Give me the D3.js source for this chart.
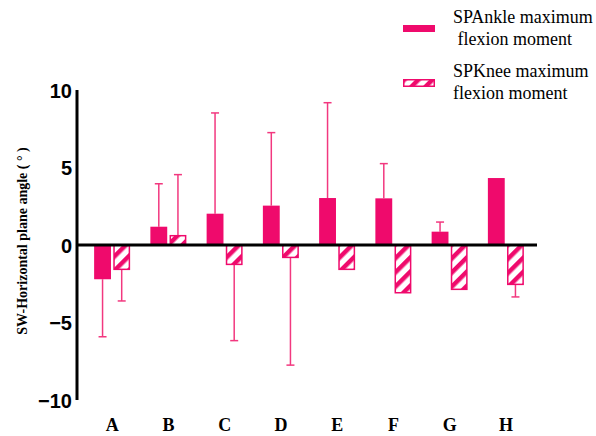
<!DOCTYPE html>
<html><head><meta charset="utf-8">
<script src="https://cdn.jsdelivr.net/npm/d3@7"></script>
<style>html,body{margin:0;padding:0;background:#fff;}svg{display:block;}</style>
</head><body>
<svg id="chart" width="596" height="436"></svg>
<script>
const categories = ["A","B","C","D","E","F","G","H"];
const seriesNames = ["SPAnkle maximum\n flexion moment", "SPKnee maximum\nflexion moment"];
const ankleMean = [-2.21, 1.18, 2.02, 2.54, 3.03, 3.01, 0.86, 4.32];
const ankleSD   = [3.71, 2.77, 6.50, 4.71, 6.15, 2.24, 0.62, 0];
const kneeMean  = [-1.57, 0.60, -1.25, -0.80, -1.57, -3.08, -2.86, -2.54];
const kneeSD    = [2.04, 3.94, 4.92, 6.95, 0, 0, 0, 0.81];
const yTicks = [-10, -5, 0, 5, 10];

const pink = "#EF0A6C";
const errColor = "#F2387F";
const serif = "'Liberation Serif', 'Times New Roman', serif";
const sans = "'Liberation Sans', Arial, sans-serif";
const svg = d3.select("#chart");

const defs = svg.append("defs");
const pat = defs.append("pattern").attr("id","hatch").attr("patternUnits","userSpaceOnUse")
  .attr("width",10).attr("height",10).attr("patternTransform","rotate(45)");
pat.append("rect").attr("width",10).attr("height",10).attr("fill","#fff");
pat.append("rect").attr("x",0).attr("width",4.5).attr("height",10).attr("fill",pink);

const y = d3.scaleLinear().domain([-10,10]).range([400,90]);
const x = d3.scaleBand().domain(categories).range([84,534]).padding(0);
const sub = d3.scaleBand().domain([0,1]).range([-18,18]).paddingInner(0.12);

const data = categories.map((c,i)=>[
  {c, s:0, m:ankleMean[i], sd:ankleSD[i]},
  {c, s:1, m:kneeMean[i], sd:kneeSD[i]}
]).flat();

const xc = d => x(d.c) + x.bandwidth()/2 + sub(d.s);
const bw = sub.bandwidth();

// error bars
const eg = svg.append("g");
data.filter(d=>d.sd>0).forEach(d=>{
  const cx = xc(d) + bw/2;
  const end = d.m >= 0 ? d.m + d.sd : d.m - d.sd;
  eg.append("line").attr("x1",cx).attr("x2",cx).attr("y1",y(d.m)).attr("y2",y(end))
    .attr("stroke",errColor).attr("stroke-width",1.5);
  eg.append("line").attr("x1",cx-4).attr("x2",cx+4).attr("y1",y(end)).attr("y2",y(end))
    .attr("stroke",errColor).attr("stroke-width",1.5);
});

// bars
svg.append("g").selectAll("rect").data(data).join("rect")
  .attr("x", d => d.s===0 ? xc(d) : xc(d)+0.75)
  .attr("y", d => y(Math.max(0,d.m)))
  .attr("width", d => d.s===0 ? bw : bw-1.5)
  .attr("height", d => Math.abs(y(d.m)-y(0)))
  .attr("fill", d => d.s===0 ? pink : "url(#hatch)")
  .attr("stroke", d => d.s===0 ? "none" : pink)
  .attr("stroke-width", 1.5);

// zero line
svg.append("line").attr("x1",77).attr("x2",537).attr("y1",y(0)).attr("y2",y(0))
  .attr("stroke","#000").attr("stroke-width",3);

// y axis
const yAxis = d3.axisLeft(y).tickValues(yTicks).tickSize(0).tickPadding(5).tickFormat(d3.format("d"));
const ya = svg.append("g").attr("transform","translate(77,0)").call(yAxis);
ya.select(".domain").attr("stroke","#000").attr("stroke-width",3).attr("d","M0,90V400");
ya.selectAll("text").attr("font-family",sans)
  .attr("font-weight","bold").attr("font-size",20).attr("fill","#000").attr("dy","0.35em");

// x labels
const xAxis = d3.axisBottom(x).tickSize(0).tickPadding(0);
const xa = svg.append("g").attr("transform","translate(0,418)").call(xAxis);
xa.select(".domain").remove();
xa.selectAll("text").attr("font-family",serif)
  .attr("font-weight","bold").attr("font-size",18).attr("fill","#000").attr("dy","0.7em");

// y label
svg.append("text").attr("transform","translate(27,241) rotate(-90)")
  .attr("text-anchor","middle").attr("font-family",serif)
  .attr("font-weight","bold").attr("font-size",14).attr("fill","#000")
  .text("SW-Horizontal plane angle ( ° )");

// legend
const lg = svg.append("g");
const legY = [25, 79];
[0,1].forEach(i=>{
  lg.append("rect").attr("x", i===0?403:403.75).attr("y",legY[i] + (i===0?0:0.75))
    .attr("width", i===0?32:30.5).attr("height", i===0?7:6.5)
    .attr("fill", i===0?pink:"url(#hatch)").attr("stroke", i===0?"none":pink).attr("stroke-width",1.5);
  const lines = seriesNames[i].split("\n");
  const t = lg.append("text").attr("font-family",serif)
    .attr("font-size",18).attr("fill","#000").style("white-space","pre");
  lines.forEach((l,j)=>{
    t.append("tspan").attr("x",453).attr("y",(i===0?23:77)+j*22).text(l);
  });
});
</script>
</body></html>
